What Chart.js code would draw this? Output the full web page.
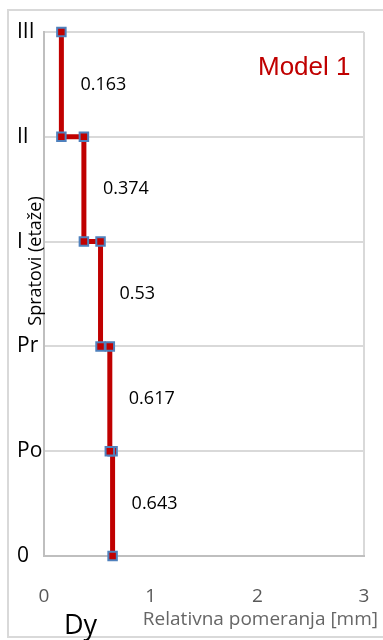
<!DOCTYPE html>
<html>
<head>
<meta charset="utf-8">
<script src="https://cdn.jsdelivr.net/npm/chart.js@4.4.0/dist/chart.umd.min.js"></script>
<style>
html,body{margin:0;padding:0;background:#fff;}
canvas{display:block;}
</style>
</head>
<body>
<canvas id="c" width="383" height="640"></canvas>
<script>
// Storey levels (bottom to top)
const categories = ['0', 'Po', 'Pr', 'I', 'II', 'III'];
// Relative displacement (drift) of each storey, bottom to top [mm]
const drift = [0.643, 0.617, 0.53, 0.374, 0.163];
const driftLabels = ['0.643', '0.617', '0.53', '0.374', '0.163'];
const xTicks = [0, 1, 2, 3];
const chartTitle = 'Model 1';
const xTitle = 'Relativna pomeranja [mm]';
const yTitle = 'Spratovi (etaže)';
const dirLabel = 'Dy';

// step profile built from the drift array
const stepPoints = [];
drift.forEach((d, i) => { stepPoints.push({x: d, y: i}); stepPoints.push({x: d, y: i + 1}); });

const decor = {
  id: 'decor',
  beforeDraw(chart) {
    const ctx = chart.ctx;
    ctx.save();
    ctx.strokeStyle = '#d9d9d9';
    ctx.lineWidth = 2;
    ctx.strokeRect(8, 10, 420, 627);
    const a = chart.chartArea;
    ctx.strokeStyle = '#d9d9d9';
    ctx.beginPath();
    ctx.moveTo(a.right, a.top); ctx.lineTo(a.right, a.bottom);
    ctx.stroke();
    ctx.restore();
  },
  afterDatasetsDraw(chart) {
    const ctx = chart.ctx;
    const xs = chart.scales.x, ys = chart.scales.y;
    ctx.save();
    ctx.fillStyle = '#000';
    ctx.font = '18px "Open Sans"';
    ctx.textAlign = 'left';
    ctx.textBaseline = 'middle';
    drift.forEach((d, i) => {
      ctx.fillText(driftLabels[i], xs.getPixelForValue(d) + 19, ys.getPixelForValue(i + 0.5));
    });
    // chart title
    ctx.fillStyle = '#C00000';
    ctx.font = '26px "Liberation Sans"';
    ctx.textAlign = 'left';
    ctx.textBaseline = 'alphabetic';
    ctx.fillText(chartTitle, 258, 75);
    // x title
    ctx.fillStyle = '#666666';
    ctx.font = '19px "Open Sans"';
    ctx.textAlign = 'right';
    ctx.textBaseline = 'middle';
    ctx.fillText(xTitle, 378, 620);
    // direction label
    ctx.fillStyle = '#000';
    ctx.font = '27px "Open Sans"';
    ctx.textAlign = 'left';
    ctx.textBaseline = 'alphabetic';
    ctx.fillText(dirLabel, 64, 634);
    // y title
    ctx.translate(41, 261);
    ctx.rotate(-Math.PI / 2);
    ctx.font = '18px "Open Sans"';
    ctx.textAlign = 'center';
    ctx.textBaseline = 'alphabetic';
    ctx.fillStyle = '#000';
    ctx.fillText(yTitle, 0, 0);
    ctx.restore();
  }
};

new Chart(document.getElementById('c'), {
  type: 'scatter',
  data: {
    datasets: [{
      data: stepPoints,
      showLine: true,
      clip: false,
      borderColor: '#C00000',
      borderWidth: 5,
      pointStyle: 'rect',
      pointRadius: 6,
      pointBackgroundColor: '#C00000',
      pointBorderColor: '#4F81BD',
      pointBorderWidth: 2,
      tension: 0
    }]
  },
  options: {
    responsive: false,
    animation: false,
    layout: { padding: { left: 17, right: 19, top: 32, bottom: 0 } },
    plugins: { legend: { display: false }, tooltip: { enabled: false } },
    scales: {
      x: {
        type: 'linear', min: 0, max: 3,
        afterBuildTicks(s) { s.ticks = xTicks.map(v => ({ value: v })); },
        afterFit(s) { s.height = 84; s.paddingLeft = 0; s.paddingRight = 0; },
        grid: { display: false, drawTicks: false },
        border: { display: true, color: '#bfbfbf', width: 2 },
        ticks: { font: { family: 'Open Sans', size: 19 }, color: '#595959', padding: 29, maxRotation: 0 }
      },
      y: {
        type: 'linear', min: 0, max: categories.length - 1,
        afterBuildTicks(s) { s.ticks = categories.map((c, i) => ({ value: i })); },
        afterFit(s) { s.width = 27; },
        grid: { color: '#d9d9d9', lineWidth: 2, drawTicks: false },
        border: { display: true, color: '#bfbfbf', width: 2 },
        ticks: {
          font: { family: 'Open Sans', size: 21 }, color: '#000', padding: 4,
          crossAlign: 'far',
          callback: (v) => categories[v]
        }
      }
    }
  },
  plugins: [decor]
});
</script>
</body>
</html>
